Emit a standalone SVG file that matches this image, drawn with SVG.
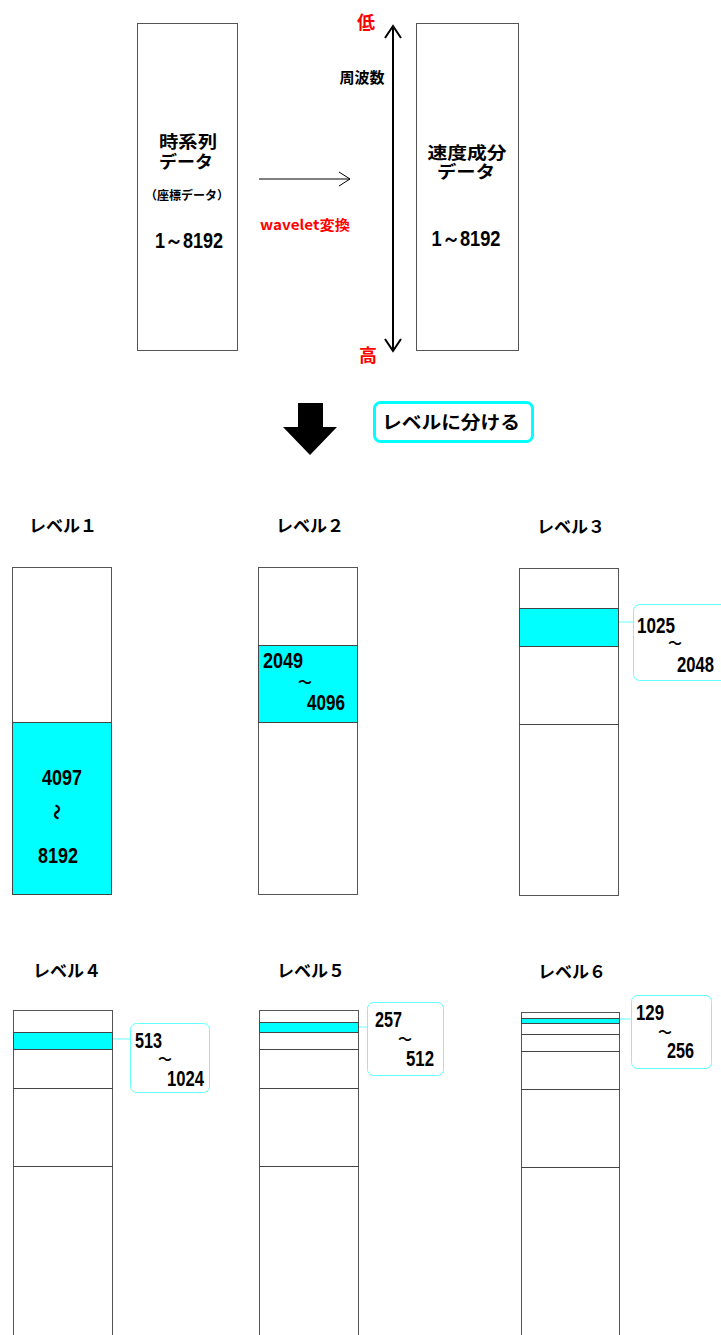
<svg xmlns="http://www.w3.org/2000/svg" width="721" height="1335" viewBox="0 0 721 1335">
<style>
.box{fill:#fff;stroke:#555;stroke-width:1}
.div{stroke:#444;stroke-width:1}
.cy{fill:#00ffff;stroke:#444;stroke-width:1}
.co{fill:#fff;stroke:#66ffff;stroke-width:1}
.cl{stroke:#66ffff;stroke-width:1}
.jp{font-family:"Noto Sans CJK JP","Noto Sans",sans-serif;font-weight:bold;fill:#000}
.num{font-family:"Liberation Sans",Arial,sans-serif;font-weight:bold;font-size:22px;fill:#000}
.red{fill:#ff0000}
.tl{font-family:"Noto Sans CJK JP",sans-serif;font-weight:bold;font-size:17px;fill:#000}
.tld{font-family:"Noto Sans CJK JP",sans-serif;font-weight:bold;font-size:14px;fill:#000}
</style>
<defs>
<marker id="open" markerWidth="14" markerHeight="16" refX="12" refY="8" orient="auto" markerUnits="userSpaceOnUse">
<path d="M1,1 L12,8 L1,15" fill="none" stroke="#000" stroke-width="1"/>
</marker>
<marker id="open2" markerWidth="16" markerHeight="18" refX="13" refY="9" orient="auto-start-reverse" markerUnits="userSpaceOnUse">
<path d="M1,1 L13,9 L1,17" fill="none" stroke="#000" stroke-width="2"/>
</marker>
</defs>

<rect width="721" height="1335" fill="#fff"/>

<g id="connectors">
<line x1="259" y1="179" x2="350" y2="179" stroke="#000" stroke-width="1" marker-end="url(#open)"/>
<line x1="393" y1="26" x2="393" y2="351" stroke="#000" stroke-width="2" marker-start="url(#open2)" marker-end="url(#open2)"/>
<path d="M298,403 H323 V427 H337 L310,455 L283,427 H298 Z" fill="#000"/>
<line x1="619" y1="622" x2="633" y2="622" class="cl"/>
<line x1="113" y1="1039" x2="130" y2="1039" class="cl"/>
<line x1="359" y1="1027" x2="367" y2="1027" class="cl"/>
<line x1="620" y1="1019" x2="631" y2="1019" class="cl"/>
</g>

<g id="timeseries">
<rect x="137.5" y="23.5" width="100" height="327" class="box"/>
<text x="188" y="148" text-anchor="middle" class="jp" font-size="17" textLength="58" lengthAdjust="spacingAndGlyphs">時系列</text>
<text x="186" y="168" text-anchor="middle" class="jp" font-size="17" textLength="54" lengthAdjust="spacingAndGlyphs">データ</text>
<text x="187" y="200" text-anchor="middle" class="jp" font-size="12">（座標データ）</text>
<text x="189" y="248" text-anchor="middle" class="num" textLength="68" lengthAdjust="spacingAndGlyphs">1～8192</text>
</g>

<g id="velocity">
<rect x="416.5" y="23.5" width="102" height="327" class="box"/>
<text x="467" y="159" text-anchor="middle" class="jp" font-size="17" textLength="79" lengthAdjust="spacingAndGlyphs">速度成分</text>
<text x="466" y="178" text-anchor="middle" class="jp" font-size="17" textLength="58" lengthAdjust="spacingAndGlyphs">データ</text>
<text x="466" y="246" text-anchor="middle" class="num" textLength="69" lengthAdjust="spacingAndGlyphs">1～8192</text>
</g>

<g id="labels">
<text x="366" y="29" text-anchor="middle" class="jp red" font-size="18">低</text>
<text x="368" y="362" text-anchor="middle" class="jp red" font-size="18">高</text>
<text x="362" y="83" text-anchor="middle" class="jp" font-size="15">周波数</text>
<text x="305" y="230" text-anchor="middle" class="jp red" font-size="14" textLength="90" lengthAdjust="spacingAndGlyphs">wavelet変換</text>
</g>

<g id="split-label">
<rect x="374.5" y="402.5" width="158" height="39" rx="6" fill="#fff" stroke="#00ffff" stroke-width="3"/>
<text x="451" y="429" text-anchor="middle" class="jp" font-size="18" textLength="138" lengthAdjust="spacingAndGlyphs">レベルに分ける</text>
</g>

<g id="level1">
<text x="63" y="532" text-anchor="middle" class="tl">レベル１</text>
<rect x="12.5" y="567.5" width="99" height="327" class="box"/>
<rect x="12.5" y="722.5" width="99" height="172" class="cy"/>
<text x="62" y="785" text-anchor="middle" class="num" textLength="40" lengthAdjust="spacingAndGlyphs">4097</text>
<text x="0" y="0" transform="translate(58,812) rotate(90)" text-anchor="middle" dominant-baseline="central" class="jp" font-size="16">～</text>
<text x="58" y="863" text-anchor="middle" class="num" textLength="40" lengthAdjust="spacingAndGlyphs">8192</text>
</g>

<g id="level2">
<text x="310" y="532" text-anchor="middle" class="tl">レベル２</text>
<rect x="258.5" y="567.5" width="99" height="327" class="box"/>
<rect x="258.5" y="645.5" width="99" height="77" class="cy"/>
<text x="263" y="668" class="num" textLength="40" lengthAdjust="spacingAndGlyphs">2049</text>
<text x="305" y="687" text-anchor="middle" class="tld">～</text>
<text x="307" y="710" class="num" textLength="38" lengthAdjust="spacingAndGlyphs">4096</text>
</g>

<g id="level3">
<text x="571" y="533" text-anchor="middle" class="tl">レベル３</text>
<rect x="519.5" y="568.5" width="99" height="327" class="box"/>
<rect x="519.5" y="608.5" width="99" height="38" class="cy"/>
<line x1="519" y1="724.5" x2="619" y2="724.5" class="div"/>
<rect x="633.5" y="604.5" width="100" height="76" rx="6" class="co"/>
<text x="637" y="633" class="num" textLength="38" lengthAdjust="spacingAndGlyphs">1025</text>
<text x="675" y="648" text-anchor="middle" class="tld">～</text>
<text x="677" y="672" class="num" textLength="37" lengthAdjust="spacingAndGlyphs">2048</text>
</g>

<g id="level4">
<text x="67" y="977" text-anchor="middle" class="tl">レベル４</text>
<rect x="13.5" y="1010.5" width="99" height="340" class="box"/>
<rect x="13.5" y="1032.5" width="99" height="17" class="cy"/>
<line x1="13" y1="1088.5" x2="113" y2="1088.5" class="div"/>
<line x1="13" y1="1166.5" x2="113" y2="1166.5" class="div"/>
<rect x="130.5" y="1023.5" width="79" height="69" rx="6" class="co"/>
<text x="135" y="1048" class="num" textLength="27" lengthAdjust="spacingAndGlyphs">513</text>
<text x="165" y="1064" text-anchor="middle" class="tld">～</text>
<text x="167" y="1086" class="num" textLength="37" lengthAdjust="spacingAndGlyphs">1024</text>
</g>

<g id="level5">
<text x="311" y="977" text-anchor="middle" class="tl">レベル５</text>
<rect x="259.5" y="1010.5" width="99" height="340" class="box"/>
<rect x="259.5" y="1022.5" width="99" height="10" class="cy"/>
<line x1="259" y1="1049.5" x2="359" y2="1049.5" class="div"/>
<line x1="259" y1="1088.5" x2="359" y2="1088.5" class="div"/>
<line x1="259" y1="1166.5" x2="359" y2="1166.5" class="div"/>
<rect x="367.5" y="1002.5" width="76" height="73" rx="6" class="co"/>
<text x="375" y="1027" class="num" textLength="27" lengthAdjust="spacingAndGlyphs">257</text>
<text x="405" y="1044" text-anchor="middle" class="tld">～</text>
<text x="406" y="1066" class="num" textLength="28" lengthAdjust="spacingAndGlyphs">512</text>
</g>

<g id="level6">
<text x="572" y="978" text-anchor="middle" class="tl">レベル６</text>
<rect x="521.5" y="1012.5" width="98" height="340" class="box"/>
<rect x="521.5" y="1018.5" width="98" height="5" class="cy"/>
<line x1="521" y1="1034.5" x2="620" y2="1034.5" class="div"/>
<line x1="521" y1="1051.5" x2="620" y2="1051.5" class="div"/>
<line x1="521" y1="1089.5" x2="620" y2="1089.5" class="div"/>
<line x1="521" y1="1167.5" x2="620" y2="1167.5" class="div"/>
<rect x="631.5" y="995.5" width="80" height="73" rx="6" class="co"/>
<text x="636" y="1020" class="num" textLength="28" lengthAdjust="spacingAndGlyphs">129</text>
<text x="665" y="1037" text-anchor="middle" class="tld">～</text>
<text x="667" y="1058" class="num" textLength="27" lengthAdjust="spacingAndGlyphs">256</text>
</g>
</svg>
